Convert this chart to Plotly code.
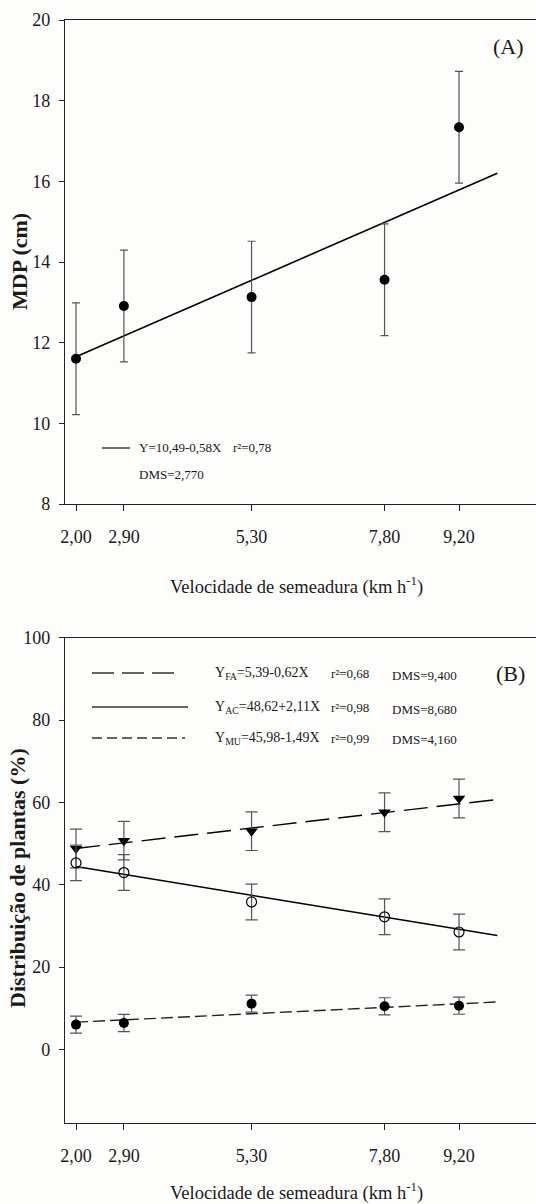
import plotly.graph_objects as go
from plotly.subplots import make_subplots

# ---------------- data ----------------
speed = [2.00, 2.90, 5.30, 7.80, 9.20]
speed_labels = ["2,00", "2,90", "5,30", "7,80", "9,20"]

mdp = [11.60, 12.91, 13.13, 13.56, 17.34]
mdp_err = [1.385, 1.385, 1.385, 1.385, 1.385]

fa = [48.8, 50.7, 53.0, 57.6, 60.95]
fa_err = [4.7, 4.7, 4.7, 4.7, 4.7]
ac = [45.3, 42.95, 35.8, 32.2, 28.5]
ac_err = [4.34, 4.34, 4.34, 4.34, 4.34]
mu = [6.0, 6.4, 11.1, 10.45, 10.6]
mu_err = [2.08, 2.08, 2.08, 2.08, 2.08]

fit_x = [2.0, 9.92]
mdp_fit = [11.65, 16.2]
fa_fit = [48.8, 60.7]
ac_fit = [44.4, 27.65]
mu_fit = [6.6, 11.5]

top_yticks = [8, 10, 12, 14, 16, 18, 20]
bot_yticks = [0, 20, 40, 60, 80, 100]

# ---------------- layout helpers ----------------
W, H = 536, 1204
ML, MR, MT, MB = 65, 0, 20, 81
PW = W - ML - MR
PH = H - MT - MB


def px(x):
    return (x - ML) / PW


def py(y):
    return (H - MB - y) / PH


FONT = "Liberation Serif, Times New Roman, serif"
BG = "#fdfdfb"
ERR = "#555555"
INK = "#1a1a1a"

fig = make_subplots(rows=2, cols=1, vertical_spacing=0.05)

# top panel
fig.add_trace(go.Scatter(x=fit_x, y=mdp_fit, mode="lines",
                         line=dict(color="black", width=1.6), showlegend=False), row=1, col=1)
fig.add_trace(go.Scatter(x=speed, y=mdp, mode="markers",
                         marker=dict(symbol="circle", size=10, color="black"),
                         error_y=dict(type="data", array=mdp_err, color=ERR, thickness=1.2, width=4),
                         showlegend=False), row=1, col=1)

# bottom panel
fig.add_trace(go.Scatter(x=fit_x, y=fa_fit, mode="lines",
                         line=dict(color="black", width=1.4, dash="24px,9px"), showlegend=False), row=2, col=1)
fig.add_trace(go.Scatter(x=fit_x, y=ac_fit, mode="lines",
                         line=dict(color="black", width=1.4), showlegend=False), row=2, col=1)
fig.add_trace(go.Scatter(x=fit_x, y=mu_fit, mode="lines",
                         line=dict(color="#222222", width=1.4, dash="12px,5px"), showlegend=False), row=2, col=1)
fig.add_trace(go.Scatter(x=speed, y=fa, mode="markers",
                         marker=dict(symbol="triangle-down", size=11, color="black"),
                         error_y=dict(type="data", array=fa_err, color=ERR, thickness=1.2, width=6),
                         showlegend=False), row=2, col=1)
fig.add_trace(go.Scatter(x=speed, y=ac, mode="markers",
                         marker=dict(symbol="circle-open", size=10, color="black", line=dict(width=1.2)),
                         error_y=dict(type="data", array=ac_err, color=ERR, thickness=1.2, width=6),
                         showlegend=False), row=2, col=1)
fig.add_trace(go.Scatter(x=speed, y=mu, mode="markers",
                         marker=dict(symbol="circle", size=10, color="black"),
                         error_y=dict(type="data", array=mu_err, color=ERR, thickness=1.2, width=6),
                         showlegend=False), row=2, col=1)

xaxis_common = dict(range=[1.793, 10.647], tickvals=speed, ticktext=speed_labels,
                    showline=True, linecolor="#222", linewidth=1.3, mirror=True,
                    ticks="outside", ticklen=6, tickcolor="#222", tickwidth=1.2,
                    ticklabelstandoff=10, showgrid=False, zeroline=False,
                    tickfont=dict(family=FONT, size=18, color=INK))
yaxis_common = dict(showline=True, linecolor="#222", linewidth=1.3,
                    ticks="outside", ticklen=5, tickcolor="#222", tickwidth=1.2,
                    ticklabelstandoff=5, showgrid=False, zeroline=False,
                    tickfont=dict(family=FONT, size=18, color=INK))

fig.update_layout(
    xaxis=dict(domain=[0, 1], **xaxis_common),
    xaxis2=dict(domain=[0, 1], **xaxis_common),
    yaxis=dict(domain=[py(504), 1], range=[8, 20], tickvals=top_yticks, **yaxis_common),
    yaxis2=dict(domain=[0, py(637.7)], range=[-17.9, 100], tickvals=bot_yticks, **yaxis_common),
)

shapes = []
annos = []


def txt(x, y, s, size=14, xanchor="left", bold=False, angle=0, color=INK):
    annos.append(dict(x=px(x), y=py(y), xref="paper", yref="paper", text=s, showarrow=False,
                      xanchor=xanchor, yanchor="middle", textangle=angle,
                      font=dict(family=FONT, size=size, color=color,
                                weight="bold" if bold else "normal")))


def seg(x0, x1, y, dash="solid"):
    shapes.append(dict(type="line", xref="paper", yref="paper", x0=px(x0), x1=px(x1),
                       y0=py(y), y1=py(y), line=dict(color="#333", width=1.4, dash=dash)))


# top panel texts
txt(508, 47, "(A)", size=22, xanchor="center")
seg(102, 130, 448)
txt(137, 448, "Y=10,49-0,58X", size=13)
txt(231, 448, "r²=0,78", size=13)
txt(137, 474, "DMS=2,770", size=13)
txt(296, 585, "Velocidade de semeadura (km h<sup>-1</sup>)", size=18.5, xanchor="center")
txt(19, 262, "MDP (cm)", size=22, xanchor="center", bold=True, angle=-90)

# bottom panel texts
txt(510, 673, "(B)", size=22, xanchor="center")
seg(92, 182, 673, "22px,8px")
seg(92, 188, 707)
seg(92, 185, 738, "10px,5px")
txt(213, 673, "Y<sub>FA</sub>=5,39-0,62X", size=14)
txt(213, 707, "Y<sub>AC</sub>=48,62+2,11X", size=14)
txt(213, 738, "Y<sub>MU</sub>=45,98-1,49X", size=14)
txt(329, 673, "r²=0,68", size=13)
txt(329, 707, "r²=0,98", size=13)
txt(329, 738, "r²=0,99", size=13)
txt(390, 675, "DMS=9,400", size=13)
txt(390, 709, "DMS=8,680", size=13)
txt(390, 740, "DMS=4,160", size=13)
txt(296, 1191, "Velocidade de semeadura (km h<sup>-1</sup>)", size=18.5, xanchor="center")
txt(17, 878, "Distribuição de plantas (%)", size=22, xanchor="center", bold=True, angle=-90)

fig.update_layout(
    width=W, height=H, margin=dict(l=ML, r=MR, t=MT, b=MB),
    paper_bgcolor=BG, plot_bgcolor=BG, showlegend=False,
    shapes=shapes, annotations=annos,
    font=dict(family=FONT, color=INK),
)

fig.write_html("out.html", config={"displayModeBar": False},
               post_script="document.body.style.margin='0';document.body.style.background='%s';" % BG)
